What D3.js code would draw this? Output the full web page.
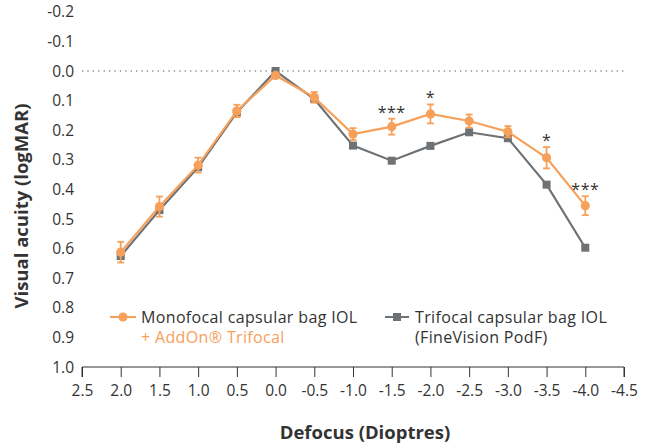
<!DOCTYPE html>
<html><head><meta charset="utf-8">
<script src="https://cdn.jsdelivr.net/npm/d3@7"></script>
<style>body{margin:0;background:#fff}svg{display:block}</style>
</head><body>
<svg id="c" width="646" height="445"></svg>
<script>
const defocus = [2.0,1.5,1.0,0.5,0.0,-0.5,-1.0,-1.5,-2.0,-2.5,-3.0,-3.5,-4.0];
const addOn = [0.612,0.458,0.318,0.135,0.015,0.089,0.213,0.188,0.145,0.169,0.205,0.293,0.455];
const addOnErr = [0.035,0.034,0.025,0.021,0.006,0.018,0.020,0.027,0.032,0.022,0.019,0.036,0.032];
const trifocal = [0.625,0.470,0.325,0.140,0.000,0.095,0.252,0.303,0.253,0.207,0.227,0.384,0.597];
const significance = ["","","","","","","","***","*","","","*","***"];
const xTicks = [2.5,2.0,1.5,1.0,0.5,0.0,-0.5,-1.0,-1.5,-2.0,-2.5,-3.0,-3.5,-4.0,-4.5];
const yTicks = [-0.2,-0.1,0.0,0.1,0.2,0.3,0.4,0.5,0.6,0.7,0.8,0.9,1.0];
const seriesNames = [["Monofocal capsular bag IOL","+ AddOn® Trifocal"],["Trifocal capsular bag IOL","(FineVision PodF)"]];

const ORANGE = "#F6A05A", GRAY = "#6F7275", TXT = "#333";
const FONT = "'Open Sans', sans-serif";
const svg = d3.select("#c");
const x = d3.scaleLinear().domain([2.5,-4.5]).range([82,624]);
const y = d3.scaleLinear().domain([-0.2,1.0]).range([11.8,367]);
const fmt = v => Math.abs(v)<1e-9 ? "0.0" : v.toFixed(1);

// y tick labels
svg.append("g").selectAll("text").data(yTicks).join("text")
  .attr("x",74).attr("y",d=>y(d)).attr("dy","0.36em")
  .attr("text-anchor","end").attr("font-family",FONT).attr("font-size",15.5)
  .attr("fill",TXT).text(fmt);

// dotted zero line
svg.append("line").attr("x1",x(2.5)).attr("x2",x(-4.5)+2).attr("y1",y(0)).attr("y2",y(0))
  .attr("stroke","#555").attr("stroke-width",1.2).attr("stroke-dasharray","1.3 4.1");

// x axis
const xAxis = d3.axisBottom(x).tickValues(xTicks).tickSize(10).tickPadding(8).tickFormat(fmt);
const gx = svg.append("g").attr("transform",`translate(0,${y(1.0)})`).call(xAxis);
gx.select(".domain").attr("stroke",TXT).attr("d",`M${x(2.5)},10V0H${x(-4.5)}V10`);
gx.selectAll(".tick line").attr("stroke",TXT);
gx.selectAll(".tick text").attr("font-family",FONT).attr("font-size",15.5).attr("fill",TXT);

// axis titles
svg.append("text").attr("x",365).attr("y",439).attr("text-anchor","middle")
  .attr("font-family",FONT).attr("font-weight","bold").attr("font-size",18.5).attr("fill",TXT)
  .text("Defocus (Dioptres)");
svg.append("text").attr("transform","translate(28,206) rotate(-90)").attr("text-anchor","middle")
  .attr("font-family",FONT).attr("font-weight","bold").attr("font-size",18.5).attr("fill",TXT)
  .text("Visual acuity (logMAR)");

const line = d3.line().x(d=>x(d[0])).y(d=>y(d[1]));
const triData = defocus.map((d,i)=>[d,trifocal[i]]);
const addData = defocus.map((d,i)=>[d,addOn[i]]);

// trifocal series
svg.append("path").datum(triData).attr("d",line).attr("fill","none")
  .attr("stroke",GRAY).attr("stroke-width",2.2);
svg.append("g").selectAll("rect").data(triData).join("rect")
  .attr("x",d=>x(d[0])-4).attr("y",d=>y(d[1])-4).attr("width",8).attr("height",8).attr("fill",GRAY);

// addon series
svg.append("path").datum(addData).attr("d",line).attr("fill","none")
  .attr("stroke",ORANGE).attr("stroke-width",2.2);
const eg = svg.append("g").attr("stroke",ORANGE).attr("stroke-width",1.8);
addData.forEach((d,i)=>{
  const e = addOnErr[i], cx = x(d[0]);
  eg.append("line").attr("x1",cx).attr("x2",cx).attr("y1",y(d[1]-e)).attr("y2",y(d[1]+e));
  eg.append("line").attr("x1",cx-3.5).attr("x2",cx+3.5).attr("y1",y(d[1]-e)).attr("y2",y(d[1]-e));
  eg.append("line").attr("x1",cx-3.5).attr("x2",cx+3.5).attr("y1",y(d[1]+e)).attr("y2",y(d[1]+e));
});
svg.append("g").selectAll("circle").data(addData).join("circle")
  .attr("cx",d=>x(d[0])).attr("cy",d=>y(d[1])).attr("r",4.6).attr("fill",ORANGE);

// significance stars
svg.append("g").selectAll("text").data(defocus.map((d,i)=>({d,v:addOn[i]-addOnErr[i],s:significance[i]})).filter(o=>o.s))
  .join("text").attr("x",o=>x(o.d)).attr("y",o=>y(o.v)-1).attr("text-anchor","middle")
  .attr("font-family",FONT).attr("font-size",16).attr("fill",TXT).attr("letter-spacing",0.5)
  .text(o=>o.s);

// legend
const lg = svg.append("g").attr("font-family",FONT).attr("font-size",16).attr("letter-spacing",0.35);
lg.append("line").attr("x1",110).attr("x2",136).attr("y1",317).attr("y2",317).attr("stroke",ORANGE).attr("stroke-width",2);
lg.append("circle").attr("cx",123).attr("cy",317).attr("r",4.6).attr("fill",ORANGE);
lg.append("text").attr("x",141).attr("y",323).attr("fill",TXT).text(seriesNames[0][0]);
lg.append("text").attr("x",141).attr("y",343).attr("fill",ORANGE).text(seriesNames[0][1]);
lg.append("line").attr("x1",385).attr("x2",409).attr("y1",317).attr("y2",317).attr("stroke",GRAY).attr("stroke-width",2);
lg.append("rect").attr("x",393).attr("y",313).attr("width",8).attr("height",8).attr("fill",GRAY);
lg.append("text").attr("x",415).attr("y",323).attr("fill",TXT).text(seriesNames[1][0]);
lg.append("text").attr("x",415).attr("y",343).attr("fill",TXT).text(seriesNames[1][1]);
</script>
</body></html>
